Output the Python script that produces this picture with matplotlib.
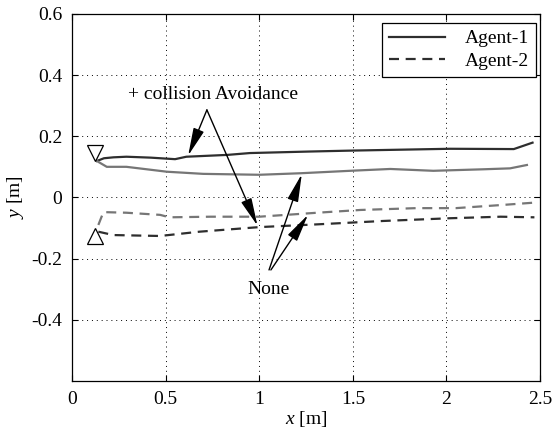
import matplotlib
matplotlib.use('Agg')
import matplotlib.pyplot as plt

plt.rcParams['font.family'] = ['Liberation Serif', 'DejaVu Serif']
plt.rcParams['mathtext.fontset'] = 'custom'
plt.rcParams['mathtext.rm'] = 'Liberation Serif'
plt.rcParams['mathtext.it'] = 'Liberation Serif:italic'
plt.rcParams['font.size'] = 14

# agent-1, with collision avoidance
a1_avoid_x = [0.132, 0.17, 0.22, 0.29, 0.42, 0.55, 0.61, 0.83, 0.95, 1.27, 1.49, 2.02, 2.36, 2.46]
a1_avoid_y = [0.119, 0.128, 0.131, 0.133, 0.130, 0.125, 0.133, 0.139, 0.145, 0.150, 0.153, 0.159, 0.158, 0.179]
# agent-1, no avoidance
a1_none_x = [0.132, 0.185, 0.29, 0.506, 0.70, 1.0, 1.22, 1.485, 1.70, 1.93, 2.20, 2.34, 2.43]
a1_none_y = [0.119, 0.100, 0.100, 0.084, 0.077, 0.074, 0.079, 0.087, 0.093, 0.087, 0.092, 0.095, 0.106]
# agent-2, no avoidance
a2_none_x = [0.14, 0.167, 0.29, 0.47, 0.52, 0.74, 1.0, 1.31, 1.54, 1.84, 2.05, 2.29, 2.47]
a2_none_y = [-0.090, -0.048, -0.050, -0.057, -0.065, -0.063, -0.063, -0.050, -0.041, -0.035, -0.035, -0.025, -0.017]
# agent-2, with collision avoidance
a2_avoid_x = [0.14, 0.22, 0.47, 0.68, 1.0, 1.31, 1.66, 2.02, 2.29, 2.47]
a2_avoid_y = [-0.112, -0.123, -0.126, -0.112, -0.097, -0.088, -0.077, -0.068, -0.063, -0.065]

# start positions
start1 = (0.123, 0.145)
start2 = (0.123, -0.125)

xticks = [0, 0.5, 1, 1.5, 2, 2.5]
xticklabels = ['0', '0.5', '1', '1.5', '2', '2.5']
yticks = [-0.4, -0.2, 0, 0.2, 0.4, 0.6]
yticklabels = ['-0.4', '-0.2', '0', '0.2', '0.4', '0.6']

dark = '#2e2e2e'
light = '#767676'

fig = plt.figure(figsize=(5.55, 4.32), dpi=100)
ax = fig.add_axes([0.130, 0.118, 0.843, 0.850])

ax.plot(a1_avoid_x, a1_avoid_y, '-', color=dark, lw=1.6, label='Agent-1')
ax.plot(a1_none_x, a1_none_y, '-', color=light, lw=1.6)
ax.plot(a2_avoid_x, a2_avoid_y, '--', color=dark, lw=1.6, dashes=(4.5, 3), label='Agent-2')
ax.plot(a2_none_x, a2_none_y, '--', color=light, lw=1.6, dashes=(4.5, 3))

ax.plot(*start1, marker='v', ms=11, mfc='white', mec='k', mew=0.9, ls='none')
ax.plot(*start2, marker='^', ms=11, mfc='white', mec='k', mew=0.9, ls='none')

arrow = dict(arrowstyle='-|>,head_length=0.85,head_width=0.17', color='k', lw=1.0,
             mutation_scale=20, shrinkA=0, shrinkB=0)

ax.text(0.753, 0.335, '+ collision Avoidance', ha='center', va='center')
ax.annotate('', xy=(0.62, 0.137), xytext=(0.72, 0.286), arrowprops=arrow)
ax.annotate('', xy=(0.99, -0.092), xytext=(0.72, 0.286), arrowprops=arrow)

ax.text(1.047, -0.302, 'None', ha='center', va='center')
ax.annotate('', xy=(1.227, 0.076), xytext=(1.052, -0.237), arrowprops=arrow)
ax.annotate('', xy=(1.26, -0.057), xytext=(1.062, -0.237), arrowprops=arrow)

ax.set_xlim(0, 2.5)
ax.set_ylim(-0.6, 0.6)
ax.set_xticks(xticks)
ax.set_xticklabels(xticklabels)
ax.set_yticks(yticks)
ax.set_yticklabels(yticklabels)
ax.tick_params(direction='in', top=True, right=True, length=4, width=0.8, pad=7)
ax.grid(True, ls=(0, (1, 4)), color='k', lw=0.7)
for s in ax.spines.values():
    s.set_linewidth(0.9)

ax.set_xlabel('$x$ [m]', labelpad=1)
ax.set_ylabel('$y$ [m]', labelpad=4)

leg = ax.legend(loc='upper right', bbox_to_anchor=(0.991, 0.975), borderaxespad=0,
                fancybox=False, framealpha=1, edgecolor='k', handlelength=2.9,
                labelspacing=0.25, borderpad=0.35, handletextpad=1.0)
leg.get_frame().set_linewidth(0.9)

fig.savefig('out.png', dpi=100)
